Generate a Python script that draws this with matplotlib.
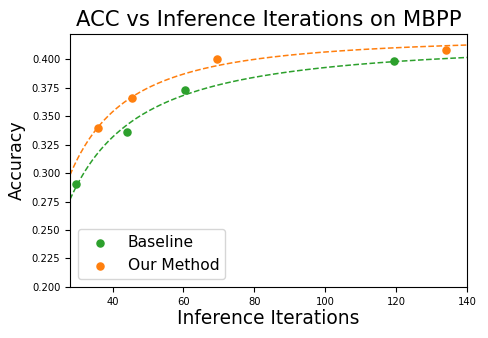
import numpy as np
import matplotlib
matplotlib.use("Agg")
import matplotlib.pyplot as plt

# values
baseline_iters = [29.7, 44.2, 60.5, 119.3]
baseline_acc = [0.290, 0.336, 0.373, 0.398]
ours_iters = [36.0, 45.6, 69.6, 134.1]
ours_acc = [0.340, 0.366, 0.400, 0.408]

# exponents of the saturating fit y = a - b * x^-c
baseline_exp = 1.4
ours_exp = 1.7


def fit_saturating(x, y, c):
    # least squares for a and b with the exponent held fixed
    x = np.asarray(x, dtype=float)
    y = np.asarray(y, dtype=float)
    A = np.column_stack([np.ones_like(x), -x ** -c])
    (a, b), *_ = np.linalg.lstsq(A, y, rcond=None)
    return lambda t: a - b * t ** -c


fig = plt.figure(figsize=(4.88, 3.38), dpi=100)
ax = fig.add_axes([0.1434, 0.151, 0.8136, 0.748])

xs = np.linspace(28, 140, 300)
f_base = fit_saturating(baseline_iters, baseline_acc, baseline_exp)
f_ours = fit_saturating(ours_iters, ours_acc, ours_exp)

ax.scatter(baseline_iters, baseline_acc, color='tab:green', s=26, label='Baseline', zorder=3)
ax.scatter(ours_iters, ours_acc, color='tab:orange', s=26, label='Our Method', zorder=3)
ax.plot(xs, f_base(xs), '--', color='tab:green', linewidth=1.1)
ax.plot(xs, f_ours(xs), '--', color='tab:orange', linewidth=1.1)

ax.set_xlim(28, 140)
ax.set_ylim(0.2, 0.422)
ax.set_yticks(np.arange(0.2, 0.401, 0.025))
ax.tick_params(labelsize=7.2)
ax.set_title('ACC vs Inference Iterations on MBPP', fontsize=15.2)
ax.set_xlabel('Inference Iterations', fontsize=13.4, labelpad=2)
ax.set_ylabel('Accuracy', fontsize=12.5)
ax.legend(loc='lower left', fontsize=11.2)

fig.savefig('out.png', dpi=100)
